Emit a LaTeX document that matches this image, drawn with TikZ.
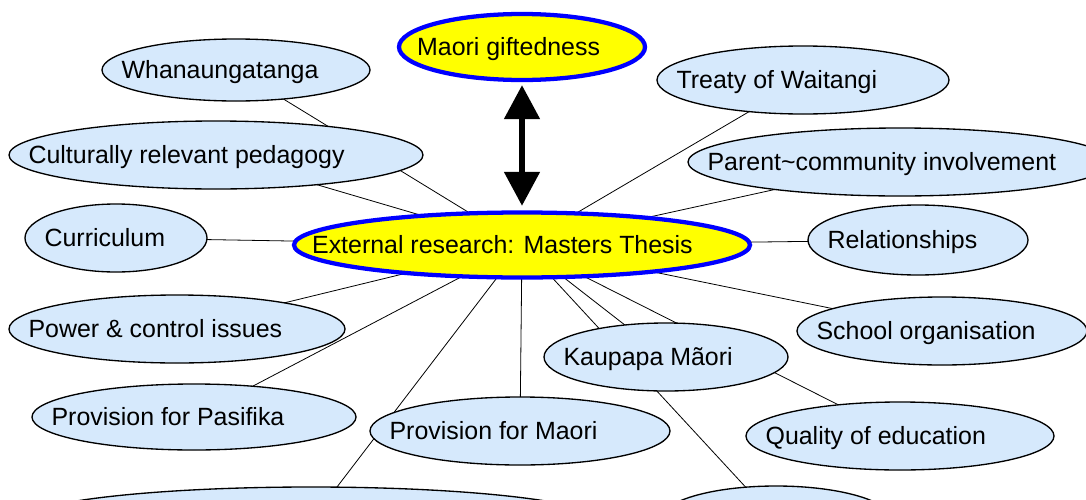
\documentclass[tikz,border=0pt]{standalone}
\usepackage{fontspec}
\setmainfont{Liberation Sans}
\usetikzlibrary{arrows.meta,shapes.geometric}
\pgfdeclarelayer{paper}
\pgfdeclarelayer{bg}
\pgfsetlayers{paper,bg,main}
\definecolor{bubblefill}{RGB}{214,233,252}
\definecolor{corefill}{RGB}{255,255,0}
\definecolor{coreline}{RGB}{0,0,255}
\tikzset{
  topic/.style={ellipse, draw=black, line width=1pt, fill=bubblefill, inner sep=0pt},
  core/.style={ellipse, draw=coreline, line width=3.2pt, fill=corefill, inner sep=0pt},
  caption/.style={anchor=west, inner sep=0pt, text height=16pt, text depth=2.8pt,
    font=\fontsize{18.7}{22}\selectfont},
  link/.style={line width=0.6pt, draw=black},
  bigarrow/.style={line width=4.5pt,
    {Triangle[width=26pt,length=25.5pt]}-{Triangle[width=26pt,length=25.5pt]}}
}
% style, name, x, y, half width, half height, caption (sizes in px units)
\newcommand{\mmnode}[7]{%
  \node[#1, minimum width=#5*1.5pt, minimum height=#6*1.5pt] (#2) at (#3,#4) {};
  \node[caption] (#2-text) at ([xshift=15pt]#2.west) {#7};
}
\begin{document}
\begin{tikzpicture}[x=0.75pt,y=-0.75pt]
  \begin{pgfonlayer}{paper}
    \fill[white] (0,0) rectangle (1086,500);
  \end{pgfonlayer}
  \useasboundingbox (0,0) rectangle (1086,500);
  \clip (0,0) rectangle (1086,500);

  % central topic and the linked theme
  \mmnode{core}{core}{522}{245}{228}{32.5}{External research: Masters Thesis}
  \mmnode{core}{gift}{522}{47}{123}{33}{Maori giftedness}

  % surrounding themes
  \mmnode{topic}{whanau}{236}{70}{134}{31}{Whanaungatanga}
  \mmnode{topic}{crp}{216}{155}{207}{34}{Culturally relevant pedagogy}
  \mmnode{topic}{curric}{116}{238}{91}{34}{Curriculum}
  \mmnode{topic}{power}{177}{329}{168}{34}{Power \& control issues}
  \mmnode{topic}{pasifika}{194}{417}{162}{33}{Provision for Pasifika}
  \mmnode{topic}{provmaori}{520}{431}{150}{34}{Provision for Maori}
  \mmnode{topic}{kaupapa}{666}{357}{122}{34}{Kaupapa Mãori}
  \mmnode{topic}{quality}{900}{436}{154}{34}{Quality of education}
  \mmnode{topic}{school}{942}{331}{145}{34}{School organisation}
  \mmnode{topic}{relations}{918}{240}{110}{35}{Relationships}
  \mmnode{topic}{parent}{900}{162}{212}{34}{Parent\textasciitilde community involvement}
  \mmnode{topic}{treaty}{803}{80}{146}{34}{Treaty of Waitangi}

  % themes running off the lower edge
  \node[topic, minimum width=290*1.5pt, minimum height=34*1.5pt] (lowleft) at (311,521) {};
  \node[topic, minimum width=116*1.5pt, minimum height=34*1.5pt] (lowright) at (776,520) {};

  % spokes from the central topic, kept behind the bubbles
  \begin{pgfonlayer}{bg}
    \foreach \t in {whanau,crp,curric,power,pasifika,provmaori,lowleft,
                    lowright,kaupapa,quality,school,relations,parent,treaty}
      \draw[link] (core.center) -- (\t.center);
  \end{pgfonlayer}

  % two-way link to Maori giftedness
  \draw[bigarrow, shorten <=2.25pt, shorten >=3.4pt] (gift.south) -- (core.north);
\end{tikzpicture}
\end{document}
